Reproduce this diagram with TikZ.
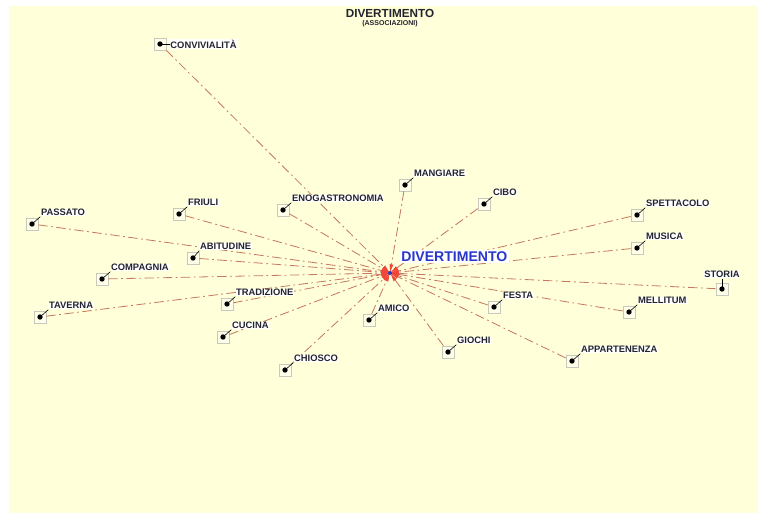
\documentclass[tikz,border=0pt]{standalone}
\usepackage{fontspec}
\setmainfont{Liberation Sans}
\usepackage{tikz}
\usepackage{xcolor}
\usetikzlibrary{arrows.meta, positioning}
\definecolor{paper}{RGB}{255,255,218}
\definecolor{linkred}{RGB}{200,120,96}
\definecolor{tipred}{RGB}{240,70,55}
\definecolor{hubblue}{RGB}{40,55,200}
\definecolor{boxgray}{RGB}{200,200,188}
\definecolor{inkgray}{RGB}{35,35,45}

\begin{document}
\begin{tikzpicture}[
    x=0.03cm, y=-0.03cm,
    wordbox/.style={rectangle, draw=boxgray, fill=paper!60!white, minimum size=0.36cm, inner sep=0pt, line width=0.5pt},
    wordlabel/.style={fill=white, inner sep=0.5pt, text=inkgray, font=\fontsize{8}{9}\selectfont\bfseries},
    hubword/.style={fill=white, inner sep=1pt, text=hubblue, font=\fontsize{12}{13}\selectfont\bfseries},
    link/.style={linkred, line width=0.7pt, dash pattern=on 8pt off 3pt on 1.5pt off 3pt, -{Latex[length=0.26cm, width=0.12cm, color=tipred]}},
    tick/.style={black, line width=0.5pt}
]
\useasboundingbox (0,0) rectangle (758,513);
\fill[paper] (9,6) rectangle (758,513);

% Title
\node[text=inkgray, font=\fontsize{10}{11}\selectfont\bfseries] (title) at (390,13) {DIVERTIMENTO};
\node[text=inkgray, font=\fontsize{6}{7}\selectfont\bfseries] (subtitle) at (390,24) {(ASSOCIAZIONI)};

% Centre
\coordinate (hub) at (390,273);

% Associated words
\node[wordbox] (conviv) at (160,44) {};
\node[wordbox] (mangiare) at (405,185) {};
\node[wordbox] (cibo) at (484,204) {};
\node[wordbox] (enogastro) at (283,210) {};
\node[wordbox] (friuli) at (179,214) {};
\node[wordbox] (passato) at (32,224) {};
\node[wordbox] (spettacolo) at (637,215) {};
\node[wordbox] (musica) at (637,248) {};
\node[wordbox] (abitudine) at (193,258) {};
\node[wordbox] (compagnia) at (102,279) {};
\node[wordbox] (storia) at (722,289) {};
\node[wordbox] (tradizione) at (227,304) {};
\node[wordbox] (festa) at (494,307) {};
\node[wordbox] (mellitum) at (629,312) {};
\node[wordbox] (taverna) at (40,317) {};
\node[wordbox] (amico) at (369,320) {};
\node[wordbox] (cucina) at (223,337) {};
\node[wordbox] (giochi) at (448,352) {};
\node[wordbox] (appartenenza) at (572,361) {};
\node[wordbox] (chiosco) at (285,370) {};

% Links to the centre
\foreach \w in {conviv, mangiare, cibo, enogastro, friuli, passato, spettacolo, musica,
                abitudine, compagnia, storia, tradizione, festa, mellitum, taverna,
                amico, cucina, giochi, appartenenza, chiosco}
    \draw[link] (\w) -- (hub);

% Labels
\node[wordlabel, right=0.1cm of conviv] (conviv-l) {CONVIVIALITÀ};
\node[wordlabel, above right=0.03cm and 0.06cm of mangiare] (mangiare-l) {MANGIARE};
\node[wordlabel, above right=0.03cm and 0.06cm of cibo] (cibo-l) {CIBO};
\node[wordlabel, above right=0.03cm and 0.06cm of enogastro] (enogastro-l) {ENOGASTRONOMIA};
\node[wordlabel, above right=0.03cm and 0.06cm of friuli] (friuli-l) {FRIULI};
\node[wordlabel, above right=0.03cm and 0.06cm of passato] (passato-l) {PASSATO};
\node[wordlabel, above right=0.03cm and 0.06cm of spettacolo] (spettacolo-l) {SPETTACOLO};
\node[wordlabel, above right=0.03cm and 0.06cm of musica] (musica-l) {MUSICA};
\node[wordlabel, above right=0.03cm and 0.0cm of abitudine] (abitudine-l) {ABITUDINE};
\node[wordlabel, above right=0.03cm and 0.06cm of compagnia] (compagnia-l) {COMPAGNIA};
\node[wordlabel, above=0.12cm of storia] (storia-l) {STORIA};
\node[wordlabel, above right=0.03cm and 0.06cm of tradizione] (tradizione-l) {TRADIZIONE};
\node[wordlabel, above right=0.03cm and 0.06cm of festa] (festa-l) {FESTA};
\node[wordlabel, above right=0.03cm and 0.06cm of mellitum] (mellitum-l) {MELLITUM};
\node[wordlabel, above right=0.03cm and 0.06cm of taverna] (taverna-l) {TAVERNA};
\node[wordlabel, above right=0.03cm and 0.06cm of amico] (amico-l) {AMICO};
\node[wordlabel, above right=0.03cm and 0.06cm of cucina] (cucina-l) {CUCINA};
\node[wordlabel, above right=0.03cm and 0.06cm of giochi] (giochi-l) {GIOCHI};
\node[wordlabel, above right=0.03cm and 0.06cm of appartenenza] (appartenenza-l) {APPARTENENZA};
\node[wordlabel, above right=0.03cm and 0.06cm of chiosco] (chiosco-l) {CHIOSCO};

% Dots and ticks
\foreach \w/\a in {conviv/west, mangiare/south west, cibo/south west, enogastro/south west,
                   friuli/south west, passato/south west, spettacolo/south west,
                   musica/south west, abitudine/south west, compagnia/south west,
                   storia/south, tradizione/south west, festa/south west,
                   mellitum/south west, taverna/south west, amico/south west,
                   cucina/south west, giochi/south west, appartenenza/south west,
                   chiosco/south west} {
    \draw[tick] (\w.center) -- (\w-l.\a);
    \fill (\w) circle[radius=0.08cm];
}

\fill[hubblue] (hub) circle[radius=0.06cm];
\node[hubword, above right=0.3cm and 0.3cm of hub] (hubname) {DIVERTIMENTO};

\end{tikzpicture}
\end{document}
